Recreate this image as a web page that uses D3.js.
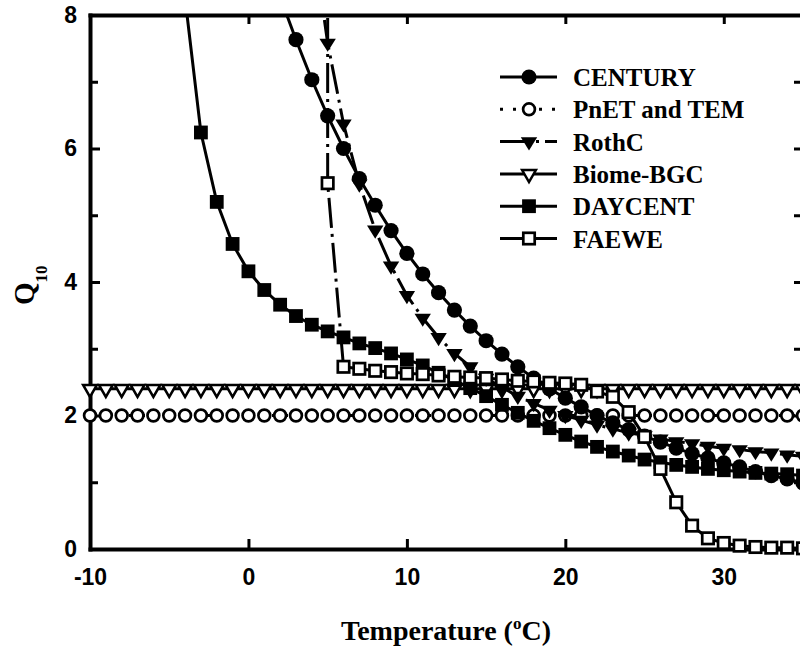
<!DOCTYPE html>
<html>
<head>
<meta charset="utf-8">
<script src="https://cdn.jsdelivr.net/npm/d3@7"></script>
<style>
  html, body { margin: 0; padding: 0; background: #fff; }
  svg { display: block; }
  .tick-label { font-family: "Liberation Sans", Arial, sans-serif; font-weight: bold; font-size: 23px; }
  .title { font-family: "Liberation Serif", "Times New Roman", serif; font-weight: bold; }
</style>
</head>
<body>
<svg id="chart" width="800" height="649"></svg>
<script>
// ---- data ----
const allTemps = [-10, -9, -8, -7, -6, -5, -4, -3, -2, -1, 0, 1, 2, 3, 4, 5, 6, 7, 8, 9, 10, 11, 12, 13, 14, 15, 16, 17, 18, 19, 20, 21, 22, 23, 24, 25, 26, 27, 28, 29, 30, 31, 32, 33, 34, 35];

const pnetQ10 = [2, 2, 2, 2, 2, 2, 2, 2, 2, 2, 2, 2, 2, 2, 2, 2, 2, 2, 2, 2, 2, 2, 2, 2, 2, 2, 2, 2, 2, 2, 2, 2, 2, 2, 2, 2, 2, 2, 2, 2, 2, 2, 2, 2, 2, 2];
const biomeQ10 = [2.4, 2.4, 2.4, 2.4, 2.4, 2.4, 2.4, 2.4, 2.4, 2.4, 2.4, 2.4, 2.4, 2.4, 2.4, 2.4, 2.4, 2.4, 2.4, 2.4, 2.4, 2.4, 2.4, 2.4, 2.4, 2.4, 2.4, 2.4, 2.4, 2.4, 2.4, 2.4, 2.4, 2.4, 2.4, 2.4, 2.4, 2.4, 2.4, 2.4, 2.4, 2.4, 2.4, 2.4, 2.4, 2.4];

const centuryTemps = [2, 3, 4, 5, 6, 7, 8, 9, 10, 11, 12, 13, 14, 15, 16, 17, 18, 19, 20, 21, 22, 23, 24, 25, 26, 27, 28, 29, 30, 31, 32, 33, 34, 35];
const centuryQ10 = [8.27, 7.63, 7.03, 6.49, 6.00, 5.55, 5.15, 4.77, 4.43, 4.12, 3.84, 3.58, 3.34, 3.12, 2.92, 2.73, 2.56, 2.40, 2.26, 2.13, 2.00, 1.89, 1.79, 1.69, 1.60, 1.51, 1.43, 1.36, 1.29, 1.23, 1.16, 1.10, 1.05, 0.99];

const rothcTemps = [4, 5, 6, 7, 8, 9, 10, 11, 12, 13, 14, 15, 16, 17, 18, 19, 20, 21, 22, 23, 24, 25, 26, 27, 28, 29, 30, 31, 32, 33, 34, 35];
const rothcQ10 = [9.26, 7.58, 6.37, 5.47, 4.78, 4.24, 3.80, 3.46, 3.17, 2.93, 2.73, 2.56, 2.42, 2.29, 2.18, 2.08, 2.00, 1.93, 1.86, 1.80, 1.74, 1.70, 1.65, 1.61, 1.58, 1.54, 1.51, 1.49, 1.46, 1.44, 1.41, 1.39];

const daycentTemps = [-4, -3, -2, -1, 0, 1, 2, 3, 4, 5, 6, 7, 8, 9, 10, 11, 12, 13, 14, 15, 16, 17, 18, 19, 20, 21, 22, 23, 24, 25, 26, 27, 28, 29, 30, 31, 32, 33, 34, 35];
const daycentQ10 = [8.25, 6.24, 5.20, 4.57, 4.16, 3.88, 3.66, 3.49, 3.36, 3.26, 3.17, 3.08, 3.01, 2.93, 2.84, 2.75, 2.64, 2.53, 2.41, 2.29, 2.16, 2.04, 1.92, 1.81, 1.71, 1.61, 1.53, 1.46, 1.40, 1.34, 1.30, 1.26, 1.23, 1.20, 1.18, 1.16, 1.14, 1.13, 1.12, 1.10];

// first FAEWE point is off scale (asymptote at 5 oC)
const faeweTemps = [5, 5, 6, 7, 8, 9, 10, 11, 12, 13, 14, 15, 16, 17, 18, 19, 20, 21, 22, 23, 24, 25, 26, 27, 28, 29, 30, 31, 32, 33, 34, 35];
const faeweQ10 = [12, 5.48, 2.73, 2.70, 2.67, 2.65, 2.63, 2.62, 2.60, 2.58, 2.57, 2.56, 2.54, 2.52, 2.51, 2.49, 2.48, 2.46, 2.36, 2.28, 2.05, 1.68, 1.20, 0.70, 0.35, 0.16, 0.09, 0.05, 0.03, 0.02, 0.02, 0.01];
const faeweDashedPoints = 3; // steep part is drawn dash-dot

const xTicks = [-10, 0, 10, 20, 30];
const yTicks = [0, 2, 4, 6, 8];
const yMinorTicks = [1, 3, 5, 7];

// ---- layout ----
const svg = d3.select("#chart");
const plot = { left: 90, right: 803, top: 15, bottom: 549 };
const x = d3.scaleLinear().domain([-10, 35]).range([plot.left, plot.right]);
const y = d3.scaleLinear().domain([0, 8]).range([plot.bottom, plot.top]);

const zip = (ts, vs) => ts.map((t, i) => [t, vs[i]]);
const plainNumber = (d) => String(d); // keeps the ASCII hyphen for "-10"

// marker shapes
const markers = {
  filledCircle: (g) => g.append("circle").attr("r", 7.6).attr("fill", "#000"),
  openCircle: (g) => g.append("circle").attr("r", 5.9).attr("fill", "#fff").attr("stroke", "#000").attr("stroke-width", 2.7),
  filledTriDown: (g) => g.append("path").attr("d", "M-8.2,-4.4L8.2,-4.4L0,8.8Z").attr("fill", "#000"),
  openTriDown: (g) => g.append("path").attr("d", "M-6.9,-3.9L6.9,-3.9L0,8.1Z").attr("fill", "#fff").attr("stroke", "#000").attr("stroke-width", 2.5).attr("stroke-linejoin", "miter"),
  filledSquare: (g) => g.append("rect").attr("x", -6.9).attr("y", -6.9).attr("width", 13.8).attr("height", 13.8).attr("fill", "#000"),
  openSquare: (g) => g.append("rect").attr("x", -5.7).attr("y", -5.7).attr("width", 11.4).attr("height", 11.4).attr("fill", "#fff").attr("stroke", "#000").attr("stroke-width", 2.7),
};

const dashDot = "30,6,3,6";
const dotted = "3,10";
const lineWidth = 3;

const series = [
  { name: "CENTURY", points: zip(centuryTemps, centuryQ10), marker: "filledCircle", dash: null, legendRow: 0 },
  { name: "PnET and TEM", points: zip(allTemps, pnetQ10), marker: "openCircle", dash: dotted, legendRow: 1 },
  { name: "RothC", points: zip(rothcTemps, rothcQ10), marker: "filledTriDown", dash: dashDot, legendRow: 2 },
  { name: "Biome-BGC", points: zip(allTemps, biomeQ10), marker: "openTriDown", dash: null, legendRow: 3 },
  { name: "DAYCENT", points: zip(daycentTemps, daycentQ10), marker: "filledSquare", dash: null, legendRow: 4 },
  { name: "FAEWE", points: zip(faeweTemps, faeweQ10), marker: "openSquare", dash: null, legendRow: 5 },
];
const drawOrder = ["PnET and TEM", "Biome-BGC", "DAYCENT", "CENTURY", "RothC", "FAEWE"];

// ---- axes ----
const styleAxis = (g) => {
  g.select(".domain").attr("stroke-width", 4).attr("stroke-linecap", "square");
  g.selectAll(".tick line").attr("stroke-width", 3);
  g.selectAll(".tick text").attr("class", "tick-label").attr("fill", "#000");
};

svg.append("g")
  .attr("transform", `translate(0,${plot.bottom})`)
  .call(d3.axisBottom(x).tickValues(xTicks).tickSize(-10).tickSizeOuter(0).tickPadding(20).tickFormat(plainNumber))
  .call(styleAxis);

svg.append("g")
  .attr("transform", `translate(0,${plot.top})`)
  .call(d3.axisTop(x).tickValues(xTicks.slice(1)).tickSize(-9).tickSizeOuter(0).tickFormat(""))
  .call(styleAxis);

svg.append("g")
  .attr("transform", `translate(${plot.left},0)`)
  .call(d3.axisLeft(y).tickValues(yTicks).tickSize(-10).tickSizeOuter(0).tickPadding(13).tickFormat(plainNumber))
  .call(styleAxis);

svg.append("g")
  .attr("transform", `translate(${plot.left},0)`)
  .call(d3.axisLeft(y).tickValues(yMinorTicks).tickSize(-8).tickSizeOuter(0).tickFormat(""))
  .call((g) => g.select(".domain").remove())
  .call(styleAxis);

svg.append("g")
  .attr("transform", `translate(${plot.right},0)`)
  .call(d3.axisRight(y).tickValues(yTicks.concat(yMinorTicks)).tickSize(-9).tickSizeOuter(0).tickFormat(""))
  .call(styleAxis);

// ---- series ----
svg.append("clipPath").attr("id", "plot-clip")
  .append("rect")
  .attr("x", plot.left).attr("y", plot.top)
  .attr("width", plot.right - plot.left).attr("height", plot.bottom - plot.top);

const line = d3.line().x((d) => x(d[0])).y((d) => y(d[1]));
const seriesLayer = svg.append("g");

const drawLine = (g, pts, dash) => {
  g.append("path")
    .attr("d", line(pts))
    .attr("fill", "none")
    .attr("stroke", "#000")
    .attr("stroke-width", lineWidth)
    .attr("stroke-dasharray", dash)
    .attr("clip-path", "url(#plot-clip)");
};

for (const name of drawOrder) {
  const s = series.find((d) => d.name === name);
  const g = seriesLayer.append("g").attr("class", "series");
  if (s.name === "FAEWE") {
    drawLine(g, s.points.slice(0, faeweDashedPoints), dashDot);
    drawLine(g, s.points.slice(faeweDashedPoints - 1), null);
  } else {
    drawLine(g, s.points, s.dash);
  }
  g.selectAll("g.pt")
    .data(s.points.filter((d) => d[1] <= 8))
    .enter()
    .append("g")
    .attr("class", "pt")
    .attr("transform", (d) => `translate(${x(d[0])},${y(d[1])})`)
    .each(function () { markers[s.marker](d3.select(this)); });
}

// ---- legend ----
const legend = svg.append("g").attr("id", "legend");
const legendTop = 77, legendStep = 32.3;
series.forEach((s) => {
  const ly = legendTop + s.legendRow * legendStep;
  const row = legend.append("g").attr("transform", `translate(0,${ly})`);
  row.append("line")
    .attr("x1", 500).attr("x2", 557).attr("y1", 0).attr("y2", 0)
    .attr("stroke", "#000").attr("stroke-width", lineWidth)
    .attr("stroke-dasharray", s.dash);
  markers[s.marker](row.append("g").attr("transform", "translate(529,0)"));
  row.append("text")
    .attr("class", "title")
    .attr("x", 573).attr("y", 9)
    .attr("font-size", 25)
    .text(s.name);
});

// ---- axis titles ----
const xTitle = svg.append("text")
  .attr("class", "title")
  .attr("x", 446).attr("y", 640)
  .attr("text-anchor", "middle")
  .attr("font-size", 28);
xTitle.append("tspan").text("Temperature (");
xTitle.append("tspan").attr("font-size", 17).attr("dy", -11).text("o");
xTitle.append("tspan").attr("dy", 11).text("C)");

const yTitle = svg.append("text")
  .attr("class", "title")
  .attr("transform", "translate(34,305) rotate(-90)")
  .attr("font-size", 29);
yTitle.append("tspan").text("Q");
yTitle.append("tspan").attr("font-size", 17).attr("dy", 13).text("10");
</script>
</body>
</html>
